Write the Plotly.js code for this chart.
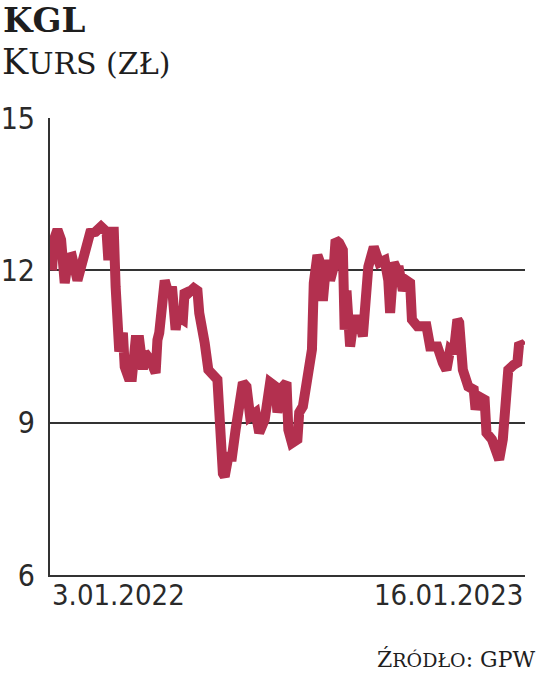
<!DOCTYPE html>
<html>
<head>
<meta charset="utf-8">
<script src="https://cdn.plot.ly/plotly-3.0.1.min.js"></script>
<style>
html,body{margin:0;padding:0;background:#fff;}
#chart{width:536px;height:676px;}
</style>
</head>
<body>
<div id="chart"></div>
<script>
// trading session index (approx.) from 3.01.2022 to 16.01.2023
const sessions = [0,1,3,5,7,9,11,13,14,16,18,21,24,27,30,31,32,34,35,36,37,39,40,42,44,46,48,50,51,54,57,58,59,62,64,66,68,69,72,73,75,78,80,81,83,84,86,89,91,94,95,97,99,101,102,105,107,109,112,114,117,120,123,124,127,129,130,132,135,136,138,141,143,144,146,147,149,151,153,155,156,158,160,161,162,164,166,169,171,172,174,177,179,180,183,185,186,188,190,191,193,195,197,198,201,206,208,212,215,217,219,221,223,224,226,227,229,232,233,235,238,239,242,244,246,248,249,251,254,256,257,259];
// closing price, PLN
const prices = [12.0,12.6,12.8,12.6,11.75,12.25,12.27,11.8,11.8,12.07,12.4,12.74,12.76,12.86,12.76,12.2,12.76,12.76,11.68,11.2,10.4,10.77,10.1,9.9,9.9,10.63,10.63,10.05,10.38,10.24,9.98,10.63,10.77,11.8,11.55,11.68,10.83,11.1,11.03,11.6,11.55,11.65,11.6,11.16,10.83,10.57,10.04,9.9,9.85,8.0,7.94,8.33,8.33,8.86,9.06,9.79,9.71,9.12,9.2,8.8,9.06,9.79,9.71,9.2,9.71,9.79,8.86,8.6,8.67,9.2,9.32,10.1,10.44,11.75,12.3,12.2,11.4,12.2,11.8,12.07,12.6,12.54,12.4,10.83,11.6,10.5,11.03,11.03,10.7,11.16,12.07,12.46,12.15,12.15,12.2,11.8,11.16,12.15,12.0,12.0,11.6,11.8,11.75,11.03,10.9,10.9,10.5,10.5,10.18,10.04,10.44,10.38,11.03,10.97,10.04,9.85,9.71,9.65,9.26,9.51,9.45,8.8,8.67,8.47,8.27,8.67,9.39,10.04,10.14,10.18,10.57,10.5];
const yTicks = [6, 9, 12, 15];
const xLabels = ["3.01.2022", "16.01.2023"];

const W = 536, H = 676, L = 50, R = 11, T = 118, B = 101;
const pw = W - L - R, ph = H - T - B;
const px = v => (v - L) / pw;
const py = v => (H - B - v) / ph;

const numFont = '"DejaVu Sans Condensed", "Liberation Sans Narrow", sans-serif';
const serif = '"DejaVu Serif", serif';
const ink = '#2a2a2a';
const sc = (big, small, size) => big + '<span style="font-size:' + size + 'px">' + small + '</span>';

const trace = {
  x: sessions, y: prices, type: 'scatter', mode: 'lines',
  line: {color: '#b3304f', width: 10, shape: 'linear'},
  hoverinfo: 'skip'
};

const layout = {
  width: W, height: H,
  margin: {l: L, r: R, t: T, b: B, pad: 0},
  paper_bgcolor: '#fff', plot_bgcolor: '#fff',
  showlegend: false,
  xaxis: {
    range: [-1.1, 260.2], showgrid: false, zeroline: false,
    showticklabels: false, ticks: '',
    showline: true, linecolor: '#333', linewidth: 2
  },
  yaxis: {
    range: [6, 15], tickvals: yTicks, ticktext: yTicks.map(String),
    showgrid: true, gridcolor: '#333', gridwidth: 2,
    zeroline: false, showline: true, linecolor: '#333', linewidth: 2,
    ticks: '', ticklabelstandoff: 7,
    tickfont: {family: numFont, size: 30, color: ink}
  },
  annotations: [
    {text: '<b>KGL</b>', xref: 'paper', yref: 'paper', x: px(1), y: py(-2),
     xanchor: 'left', yanchor: 'top', showarrow: false,
     font: {family: serif, size: 34, color: '#1e1e1e'}},
    {text: sc('K', 'URS (ZŁ)', 30), xref: 'paper', yref: 'paper', x: px(0), y: py(40),
     xanchor: 'left', yanchor: 'top', showarrow: false,
     font: {family: serif, size: 35, color: '#1e1e1e'}},
    {text: xLabels[0], xref: 'paper', yref: 'paper', x: px(50), y: py(576),
     xanchor: 'left', yanchor: 'top', showarrow: false,
     font: {family: numFont, size: 29, color: ink}},
    {text: xLabels[1], xref: 'paper', yref: 'paper', x: px(525), y: py(576),
     xanchor: 'right', yanchor: 'top', showarrow: false,
     font: {family: numFont, size: 29, color: ink}},
    {text: sc('Ź', 'RÓDŁO', 19) + ': GPW', xref: 'paper', yref: 'paper', x: px(537), y: py(674),
     xanchor: 'right', yanchor: 'bottom', showarrow: false,
     font: {family: serif, size: 22, color: '#1e1e1e'}}
  ]
};

Plotly.newPlot('chart', [trace], layout, {displayModeBar: false, staticPlot: true});
</script>
</body>
</html>
